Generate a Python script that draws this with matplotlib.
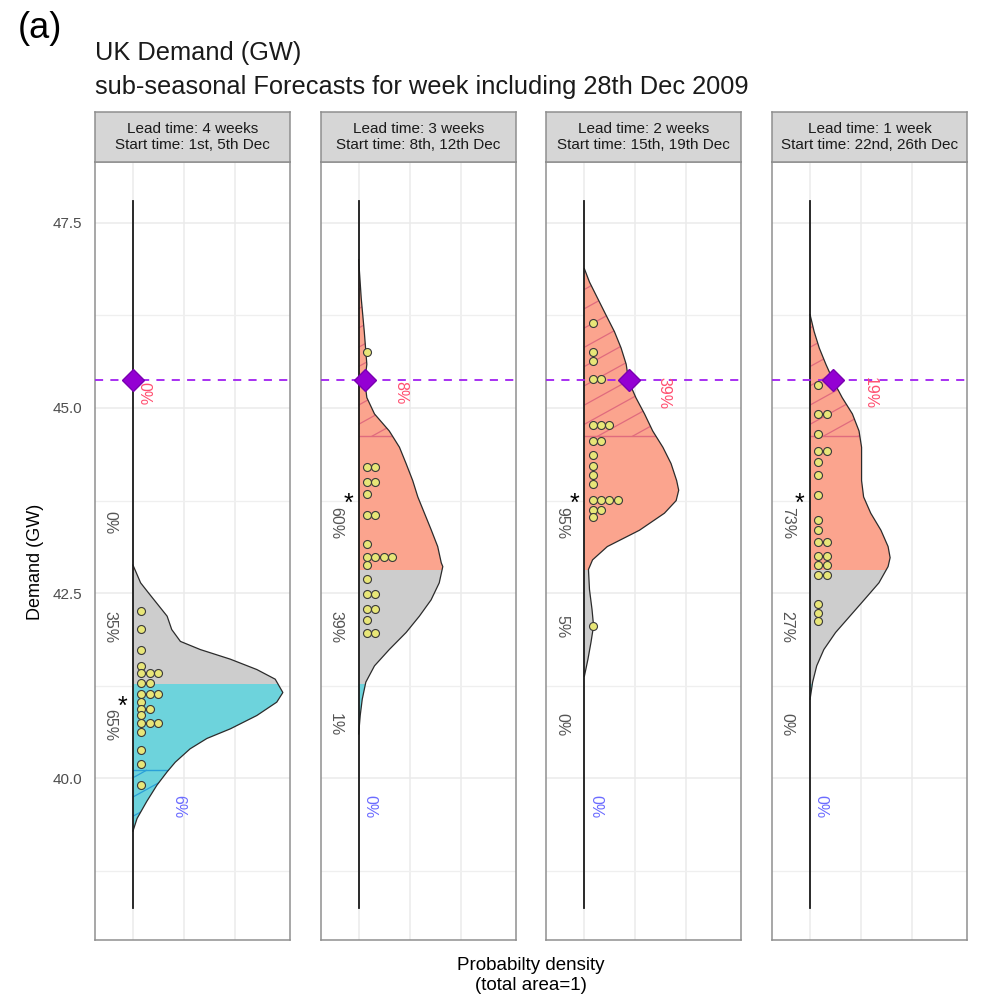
import numpy as np
import matplotlib as mpl
mpl.use('Agg')
import matplotlib.pyplot as plt
from matplotlib.patches import Rectangle

plt.rcParams['font.family'] = ['Liberation Sans', 'DejaVu Sans']

STRIPS = ['Lead time: 4 weeks\nStart time: 1st, 5th Dec',
          'Lead time: 3 weeks\nStart time: 8th, 12th Dec',
          'Lead time: 2 weeks\nStart time: 15th, 19th Dec',
          'Lead time: 1 week\nStart time: 22nd, 26th Dec']

OBSERVED = 45.38
UPPER_EXTREME = 44.62
UPPER_TERCILE = 42.82
LOWER_TERCILE = 41.28
LOWER_EXTREME = 40.11

# density outline: demand (GW) and density (grid units)
demand_4wk = [42.88, 42.64, 42.50, 42.19, 42.01, 41.85, 41.74, 41.61, 41.47, 41.34, 41.16,
              41.03, 40.85, 40.67, 40.54, 40.40, 40.22, 40.09, 39.91, 39.69, 39.46, 39.29]
density_4wk = [0.00, 0.15, 0.31, 0.67, 0.76, 0.93, 1.32, 1.91, 2.43, 2.79, 2.94,
               2.82, 2.43, 1.91, 1.45, 1.12, 0.83, 0.67, 0.47, 0.27, 0.08, 0.00]

demand_3wk = [47.00, 46.48, 46.03, 45.59, 45.36, 45.14, 44.92, 44.69, 44.47, 44.25, 44.02,
              43.80, 43.58, 43.36, 43.13, 42.91, 42.86, 42.64, 42.41, 42.19, 41.97, 41.74,
              41.52, 41.30, 41.07, 40.85, 40.60]
density_3wk = [0.00, 0.05, 0.11, 0.16, 0.12, 0.16, 0.31, 0.60, 0.80, 0.93, 1.06,
               1.16, 1.29, 1.42, 1.55, 1.62, 1.65, 1.58, 1.42, 1.19, 0.93, 0.60,
               0.31, 0.14, 0.07, 0.03, 0.00]

demand_2wk = [46.88, 46.70, 46.48, 46.26, 46.03, 45.81, 45.59, 45.36, 45.14, 44.92, 44.69,
              44.47, 44.25, 44.02, 43.89, 43.75, 43.58, 43.35, 43.13, 42.95, 42.82, 42.55,
              42.28, 42.06, 41.84, 41.61, 41.38]
density_2wk = [0.00, 0.10, 0.26, 0.42, 0.59, 0.72, 0.82, 0.87, 1.01, 1.18, 1.34,
               1.54, 1.70, 1.81, 1.85, 1.80, 1.57, 1.08, 0.45, 0.16, 0.08, 0.10,
               0.15, 0.18, 0.13, 0.07, 0.00]

demand_1wk = [46.26, 46.03, 45.81, 45.59, 45.36, 45.14, 44.92, 44.69, 44.47, 44.25, 44.02,
              43.80, 43.58, 43.35, 43.13, 42.98, 42.86, 42.64, 42.41, 42.19, 41.97, 41.74,
              41.52, 41.30, 41.07]
density_1wk = [0.00, 0.08, 0.18, 0.31, 0.46, 0.63, 0.83, 0.96, 1.01, 1.01, 1.01,
               1.05, 1.19, 1.39, 1.53, 1.57, 1.53, 1.35, 1.06, 0.78, 0.50, 0.27,
               0.13, 0.05, 0.00]

# ensemble members (GW); repeated values are stacked sideways
members_4wk = [42.26, 42.02, 41.74, 41.52, 41.43, 41.43, 41.43, 41.29, 41.29, 41.14, 41.14,
               41.14, 41.03, 40.94, 40.94, 40.85, 40.75, 40.75, 40.75, 40.63, 40.39, 40.19, 39.91]
members_3wk = [45.76, 44.21, 44.21, 44.00, 44.00, 43.84, 43.55, 43.55, 43.17, 42.99, 42.99,
               42.99, 42.99, 42.88, 42.69, 42.49, 42.49, 42.29, 42.29, 42.14, 41.97, 41.97]
members_2wk = [46.15, 45.76, 45.63, 45.39, 45.39, 44.77, 44.77, 44.77, 44.55, 44.55, 44.37,
               44.22, 44.09, 43.98, 43.76, 43.76, 43.76, 43.76, 43.62, 43.62, 43.53, 42.06]
members_1wk = [45.31, 44.92, 44.92, 44.65, 44.42, 44.42, 44.27, 44.09, 43.82, 43.49, 43.35,
               43.19, 43.19, 43.00, 43.00, 42.88, 42.88, 42.75, 42.75, 42.35, 42.23, 42.12]

tercile_pct = [[0, 35, 65], [60, 39, 1], [95, 5, 0], [73, 27, 0]]
upper_ext_pct = [0, 8, 39, 19]
lower_ext_pct = [6, 0, 0, 0]

DEMAND = [demand_4wk, demand_3wk, demand_2wk, demand_1wk]
DENSITY = [density_4wk, density_3wk, density_2wk, density_1wk]
MEMBERS = [members_4wk, members_3wk, members_2wk, members_1wk]

RED = '#FBA48E'
GREY = '#CDCDCD'
CYAN = '#6DD3DC'
RED_HATCH = '#E06B7E'
BLUE_HATCH = '#2AA0D8'
LABEL_Y = [43.45, 42.05, 40.72]
HATCH_SLOPE = 0.38    # GW per density unit
HATCH_STEP = 0.26     # GW between hatch lines

W, H = 984, 998
fig = plt.figure(figsize=(W / 100, H / 100), dpi=100)

fig.text(18 / W, 1 - 28 / H, '(a)', fontsize=26, va='center', ha='left')
fig.text(95 / W, 1 - 53 / H, 'UK Demand (GW)', fontsize=18.3, va='center', ha='left', color='#1a1a1a')
fig.text(95 / W, 1 - 87 / H, 'sub-seasonal Forecasts for week including 28th Dec 2009',
         fontsize=18.3, va='center', ha='left', color='#1a1a1a')
fig.text(35 / W, 1 - 562 / H, 'Demand (GW)', fontsize=13, rotation=90, va='center', ha='center')
fig.text(531 / W, 1 - 965 / H, 'Probabilty density', fontsize=13.5, va='center', ha='center')
fig.text(531 / W, 1 - 986 / H, '(total area=1)', fontsize=13.5, va='center', ha='center')

for i in range(4):
    left = (95 + i * 225.7) / W
    ax = fig.add_axes([left, 1 - 940 / H, 195 / W, 778 / H])
    vals = np.array(DEMAND[i])
    dens = np.array(DENSITY[i])

    ax.set_xlim(-0.745, 3.08)
    ax.set_ylim(37.82, 48.32)
    ax.set_xticks([0, 1, 2])
    ax.set_yticks([40, 42.5, 45, 47.5])
    ax.set_yticks([38.75, 41.25, 43.75, 46.25], minor=True)
    ax.grid(True, which='major', color='#EBEBEB', lw=1.1, zorder=0)
    ax.grid(True, which='minor', axis='y', color='#EFEFEF', lw=0.9, zorder=0)
    ax.tick_params(which='both', length=0, labelbottom=False)
    if i == 0:
        ax.tick_params(axis='y', labelsize=11, labelcolor='#4D4D4D', pad=9)
        ax.set_yticklabels(['40.0', '42.5', '45.0', '47.5'])
    else:
        ax.tick_params(axis='y', labelleft=False)
    for s in ax.spines.values():
        s.set_color('#8F8F8F')
        s.set_linewidth(1.1)

    # tercile fills
    for lo, hi, col in [(UPPER_TERCILE, 60, RED), (LOWER_TERCILE, UPPER_TERCILE, GREY),
                        (30, LOWER_TERCILE, CYAN)]:
        poly = ax.fill_betweenx(vals, 0, dens, facecolor=col, linewidth=0, zorder=2)
        poly.set_clip_path(Rectangle((-5, lo), 20, hi - lo, transform=ax.transData))

    # extreme hatching: sloped lines clipped to the density outline
    outline = ax.fill_betweenx(vals, 0, dens, facecolor='none', linewidth=0)
    clip = outline.get_paths()[0]
    for thr, above, col in [(UPPER_EXTREME, True, RED_HATCH), (LOWER_EXTREME, False, BLUE_HATCH)]:
        lines = [ax.plot([0, 10], [thr, thr], color=col, lw=1.0, zorder=3)[0]]
        for c in np.arange(thr - 4, thr + 4, HATCH_STEP):
            if above:
                x0 = max(0.0, (thr - c) / HATCH_SLOPE)
                x1 = 10.0
            else:
                x0 = 0.0
                x1 = (thr - c) / HATCH_SLOPE
                if x1 <= 0:
                    continue
            lines.append(ax.plot([x0, x1], [c + HATCH_SLOPE * x0, c + HATCH_SLOPE * x1],
                                 color=col, lw=0.9, zorder=3)[0])
        for ln in lines:
            ln.set_clip_path(clip, ax.transData)

    ax.plot(dens, vals, color='#2b2b2b', lw=0.9, zorder=4)
    ax.plot([0, 0], [38.25, 47.8], color='#1a1a1a', lw=1.3, zorder=4)

    ax.axhline(OBSERVED, color='#A020F0', lw=1.3, ls=(0, (4.5, 4)), zorder=5)

    # ensemble dot plot
    counts = {}
    xs = []
    for m in MEMBERS[i]:
        k = counts.get(m, 0)
        counts[m] = k + 1
        xs.append(0.16 + 0.166 * k)
    ax.scatter(xs, MEMBERS[i], s=33, facecolor='#E8E678', edgecolor='#3a3a3a',
               linewidth=0.8, zorder=6)

    obs_x = np.interp(OBSERVED, vals[::-1], dens[::-1], left=0, right=0)
    ax.plot([obs_x], [OBSERVED], marker='D', ms=11, color='#9400D3',
            markeredgecolor='#7a00b0', zorder=7)

    # probability labels
    for j, pct in enumerate(tercile_pct[i]):
        ax.text(-0.45, LABEL_Y[j], '%d%%' % pct, rotation=270, fontsize=11.5,
                color='#555555', ha='center', va='center', zorder=8)
    best = int(np.argmax(tercile_pct[i]))
    ax.text(-0.2, LABEL_Y[best] + 0.25, '*', fontsize=18, color='black',
            ha='center', va='center', zorder=8)

    up = dens[vals >= UPPER_EXTREME]
    up_x = (up.max() if up.size else 0) + 0.22
    ax.text(up_x, 45.2, '%d%%' % upper_ext_pct[i], rotation=270, fontsize=11.5,
            color='#FF4F70', ha='center', va='center', zorder=8)
    lowd = dens[vals <= LOWER_EXTREME]
    low_x = (lowd.max() if lowd.size else 0) + 0.22
    ax.text(low_x, 39.62, '%d%%' % lower_ext_pct[i], rotation=270, fontsize=11.5,
            color='#6B6BFF', ha='center', va='center', zorder=8)

    # facet strip
    sax = fig.add_axes([left, 1 - 162 / H, 195 / W, 50 / H])
    sax.set_facecolor('#D6D6D6')
    sax.set_xticks([])
    sax.set_yticks([])
    for s in sax.spines.values():
        s.set_color('#8F8F8F')
        s.set_linewidth(1.1)
    sax.text(0.5, 0.5, STRIPS[i], ha='center', va='center', fontsize=11,
             color='#1a1a1a', linespacing=1.1, transform=sax.transAxes)

fig.savefig('out.png', dpi=100)
